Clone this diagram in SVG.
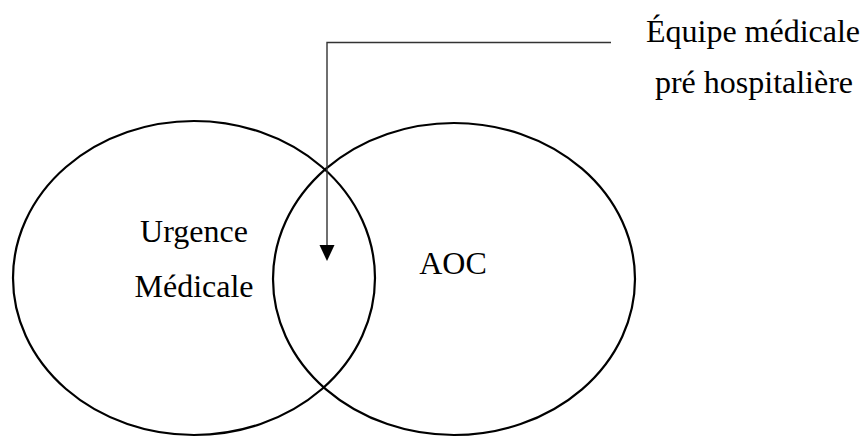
<svg xmlns="http://www.w3.org/2000/svg" width="862" height="437" viewBox="0 0 862 437">
<style>
.set{fill:none;stroke:#000;stroke-width:2.2}
.lbl{font-family:"Liberation Serif","DejaVu Serif",serif;font-size:32px;fill:#000;text-anchor:middle}
.conn{fill:none;stroke:#333;stroke-width:1.4}
.head{fill:#000}
</style>
<g id="node-urgence">
<ellipse class="set" cx="194" cy="278" rx="181" ry="157"/>
<text class="lbl" x="194" y="242">Urgence</text>
<text class="lbl" x="194" y="297">Médicale</text>
</g>
<g id="node-aoc">
<ellipse class="set" cx="454" cy="279" rx="181" ry="156"/>
<text class="lbl" x="453" y="274">AOC</text>
</g>
<g id="node-equipe">
<text class="lbl" x="753" y="42">Équipe médicale</text>
<text class="lbl" x="754" y="93">pré hospitalière</text>
</g>
<g id="connectors">
<path class="conn" d="M611,42.5 L327,42.5 L327,245"/>
<path class="head" d="M319.5,245 L334.5,245 L327,261 Z"/>
</g>
</svg>
